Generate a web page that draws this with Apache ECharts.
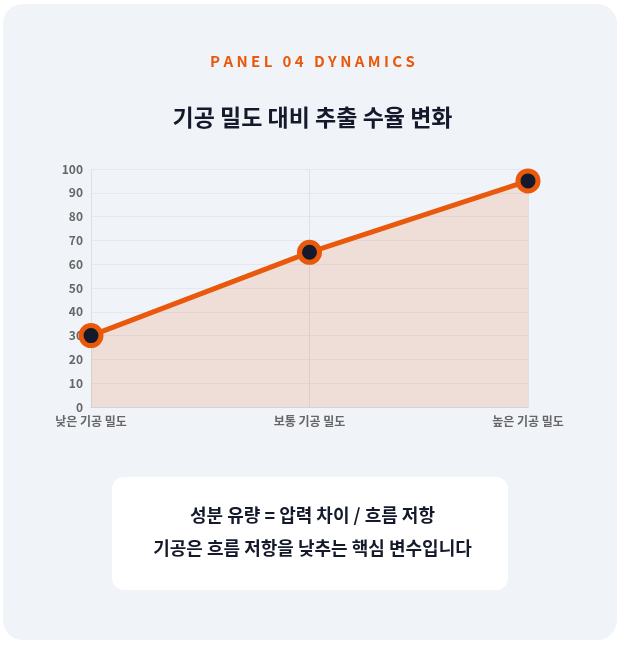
<!DOCTYPE html>
<html><head><meta charset="utf-8">
<script src="https://cdn.jsdelivr.net/npm/echarts@6/dist/echarts.min.js"></script>
<style>html,body{margin:0;padding:0;background:#fff}#c{width:625px;height:647px}</style>
</head><body><div id="c"></div>
<script>
const categories = ['낮은 기공 밀도', '보통 기공 밀도', '높은 기공 밀도'];
const yieldValues = [30, 65, 95];
const yTicks = [0, 10, 20, 30, 40, 50, 60, 70, 80, 90, 100];
const chart = echarts.init(document.getElementById('c'));
const F = '"Noto Sans CJK KR","Noto Sans",sans-serif';
chart.setOption({
  animation: false,
  graphic: [
    {type:'rect', z:-10, shape:{x:3,y:4,width:614,height:636,r:20}, style:{fill:'#f0f3f8'}},
    {type:'text', left:'center', top:54, style:{text:'P A N E L   0 4   D Y N A M I C S', fill:'#e8590c', font:'bold 15px '+F}},
    {type:'text', left:'center', top:106, style:{text:'기공 밀도 대비 추출 수율 변화', fill:'#141a2b', font:'bold 23px '+F}},
    {type:'rect', shape:{x:112,y:477,width:396,height:113,r:12}, style:{fill:'#ffffff'}},
    {type:'text', left:'center', top:506, style:{text:'성분 유량 = 압력 차이 / 흐름 저항', fill:'#141a2b', font:'bold 18px '+F}},
    {type:'text', left:'center', top:539, style:{text:'기공은 흐름 저항을 낮추는 핵심 변수입니다', fill:'#141a2b', font:'bold 18px '+F}}
  ],
  grid: {left:91, right:97, top:169, bottom:240, containLabel:false},
  xAxis: {type:'category', data:categories, boundaryGap:false,
    axisLine:{lineStyle:{color:'#d0d4dc'}}, axisTick:{show:false},
    splitLine:{show:true, lineStyle:{color:'#dde1e8'}},
    axisLabel:{color:'#666', fontWeight:'bold', fontSize:12, fontFamily:F, margin:8}},
  yAxis: {type:'value', min:0, max:100, interval:10,
    axisLine:{show:false}, axisTick:{show:false},
    splitLine:{lineStyle:{color:'#e4e7ee'}},
    axisLabel:{color:'#666', fontWeight:'bold', fontSize:12, fontFamily:F, margin:8,
      formatter: v => yTicks.includes(v) ? String(v) : ''}},
  series: [{type:'line', data:yieldValues, symbol:'circle', symbolSize:20,
    lineStyle:{color:'#e8590c', width:5},
    itemStyle:{color:'#141a2b', borderColor:'#e8590c', borderWidth:5},
    areaStyle:{color:'rgba(232,89,12,0.2)'}}]
});
</script></body></html>
